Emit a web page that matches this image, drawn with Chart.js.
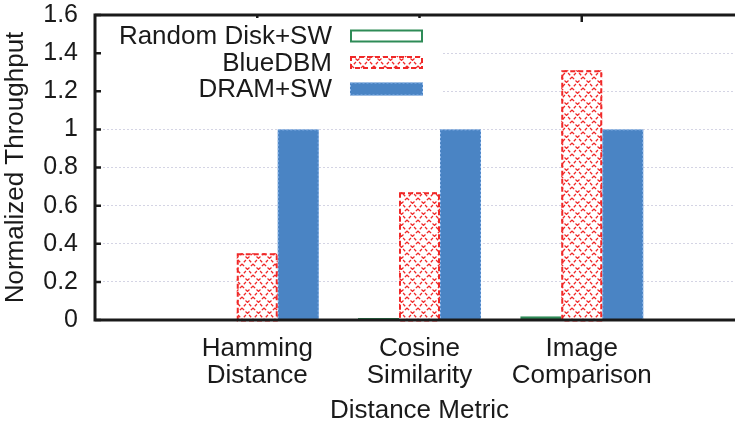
<!DOCTYPE html>
<html>
<head>
<meta charset="utf-8">
<script src="https://cdn.jsdelivr.net/npm/chart.js@4.4.0/dist/chart.umd.min.js"></script>
<style>
  html, body { margin: 0; padding: 0; background: #fff; overflow: hidden; }
  #wrap { width: 760px; height: 426px; }
</style>
</head>
<body>
<div id="wrap"><canvas id="chart" width="760" height="426"></canvas></div>
<script>
const categories = ['Hamming Distance', 'Cosine Similarity', 'Image Comparison'];
const seriesNames = ['Random Disk+SW', 'BlueDBM', 'DRAM+SW'];
const randomDiskSW = [0.001, 0.01, 0.02];
const blueDBM = [0.35, 0.67, 1.31];
const dramSW = [1, 1, 1];
const yTicks = [0, 0.2, 0.4, 0.6, 0.8, 1, 1.2, 1.4, 1.6];

const FONT = '"Liberation Sans", Arial, Helvetica, sans-serif';
const INK = '#1a1a1a';
const GREEN = '#2e8b57';
const RED = '#f02828';
const BLUE = '#4a84c4';

// white tile with red dashed diagonals -> the "x" hatch of BlueDBM
function crossHatch() {
  const n = 11;
  const c = document.createElement('canvas');
  c.width = n; c.height = n;
  const g = c.getContext('2d');
  g.fillStyle = '#fff';
  g.fillRect(0, 0, n, n);
  g.strokeStyle = RED;
  g.lineWidth = 1.3;
  g.setLineDash([3, 2]);
  g.beginPath();
  g.moveTo(0, 0); g.lineTo(n, n);
  g.moveTo(n, 0); g.lineTo(0, n);
  g.stroke();
  return g.createPattern(c, 'repeat');
}
const hatch = crossHatch();
const toPoints = arr => arr.map((y, i) => ({x: i, y: y}));

const framePlugin = {
  id: 'frame',
  afterDatasetsDraw(chart) {
    const ctx = chart.ctx, a = chart.chartArea;
    const xs = chart.scales.x, ys = chart.scales.y;
    // dashed outlines around bars (bar elements have no borderDash)
    chart.data.datasets.forEach((ds, i) => {
      if (!ds.outline) return;
      const meta = chart.getDatasetMeta(i);
      ctx.save();
      ctx.strokeStyle = ds.outline.color;
      ctx.lineWidth = ds.outline.width;
      ctx.setLineDash(ds.outline.dash);
      meta.data.forEach(bar => {
        const p = bar.getProps(['x', 'y', 'base', 'width'], true);
        const w = ds.outline.width;
        ctx.strokeRect(p.x - p.width / 2 + w / 2, p.y + w / 2, p.width - w, p.base - p.y);
      });
      ctx.restore();
    });

    ctx.save();
    ctx.strokeStyle = INK;
    ctx.lineWidth = 3;
    ctx.beginPath();
    ctx.moveTo(a.right + 10, a.top);
    ctx.lineTo(a.left, a.top);
    ctx.lineTo(a.left, a.bottom);
    ctx.lineTo(a.right + 10, a.bottom);
    ctx.stroke();
    ctx.lineWidth = 2.5;
    ctx.beginPath();
    yTicks.forEach(v => {
      const py = ys.getPixelForValue(v);
      ctx.moveTo(a.left, py); ctx.lineTo(a.left + 6, py);
    });
    categories.forEach((c, i) => {
      const px = xs.getPixelForValue(i);
      ctx.moveTo(px, a.top); ctx.lineTo(px, a.top + 7);
    });
    ctx.stroke();
    ctx.restore();
  }
};

// legend: right-aligned names with the swatch after them
const keyPlugin = {
  id: 'key',
  afterDraw(chart) {
    const ctx = chart.ctx, a = chart.chartArea;
    const textRight = a.left + 237, boxLeft = a.left + 255, boxW = 73, boxH = 13;
    ctx.save();
    ctx.fillStyle = '#fff';
    ctx.fillRect(a.left + 8, a.top + 3, 340, 86);
    ctx.font = '26px ' + FONT;
    ctx.textAlign = 'right';
    ctx.textBaseline = 'middle';
    chart.data.datasets.forEach((ds, i) => {
      const cy = a.top + 21 + i * 26.5;
      ctx.fillStyle = INK;
      ctx.fillText(ds.label, textRight, cy + 1);
      ctx.fillStyle = ds.backgroundColor;
      ctx.fillRect(boxLeft, cy - boxH / 2, boxW, boxH);
      const o = ds.outline || {color: ds.borderColor, width: ds.borderWidth, dash: []};
      ctx.strokeStyle = o.color;
      ctx.lineWidth = o.width;
      ctx.setLineDash(o.dash);
      ctx.strokeRect(boxLeft + o.width / 2, cy - boxH / 2 + o.width / 2, boxW - o.width, boxH - o.width);
    });
    ctx.restore();
  }
};

const textFont = {family: FONT, size: 26};
const tickFont = {family: FONT, size: 26, lineHeight: 1.04};

new Chart(document.getElementById('chart'), {
  type: 'bar',
  data: {
    datasets: [
      {label: seriesNames[0], data: toPoints(randomDiskSW), backgroundColor: '#fff',
       borderColor: GREEN, borderWidth: 2, borderSkipped: false},
      {label: seriesNames[1], data: toPoints(blueDBM), backgroundColor: hatch, borderWidth: 0,
       outline: {color: RED, width: 2, dash: [5, 3]}},
      {label: seriesNames[2], data: toPoints(dramSW), backgroundColor: BLUE, borderWidth: 0,
       outline: {color: '#8fb8ec', width: 1, dash: [2, 2]}}
    ]
  },
  options: {
    responsive: false,
    animation: false,
    categoryPercentage: 0.758,
    barPercentage: 1,
    layout: {padding: {top: 15, right: 16, left: 0, bottom: 0}},
    plugins: {legend: {display: false}, tooltip: {enabled: false}},
    scales: {
      x: {
        type: 'linear', min: -1, max: 3, offset: false,
        afterFit: s => { s.height = 106; s.paddingLeft = 0; s.paddingRight = 0; },
        afterBuildTicks: s => { s.ticks = categories.map((c, i) => ({value: i})); },
        ticks: {
          font: tickFont, color: INK, padding: 15, maxRotation: 0, autoSkip: false,
          callback: v => categories[v] ? categories[v].split(' ') : ''
        },
        grid: {display: false, drawTicks: false},
        border: {display: false},
        title: {display: true, text: 'Distance Metric', color: INK,
                font: textFont, padding: {top: 0, bottom: 0}}
      },
      y: {
        min: 0, max: 1.6,
        afterFit: s => { s.width = 95; s.paddingTop = 0; s.paddingBottom = 0; },
        afterBuildTicks: s => { s.ticks = yTicks.map(v => ({value: v})); },
        ticks: {font: {family: FONT, size: 25}, color: INK, padding: 17,
                callback: v => String(+v.toFixed(1))},
        grid: {color: '#d4d4e4', lineWidth: 1, drawTicks: false},
        border: {display: false, dash: [2, 2]},
        title: {display: true, text: 'Normalized Throughput', color: INK,
                font: textFont, padding: {top: 0, bottom: 0}}
      }
    }
  },
  plugins: [framePlugin, keyPlugin]
});
</script>
</body>
</html>
